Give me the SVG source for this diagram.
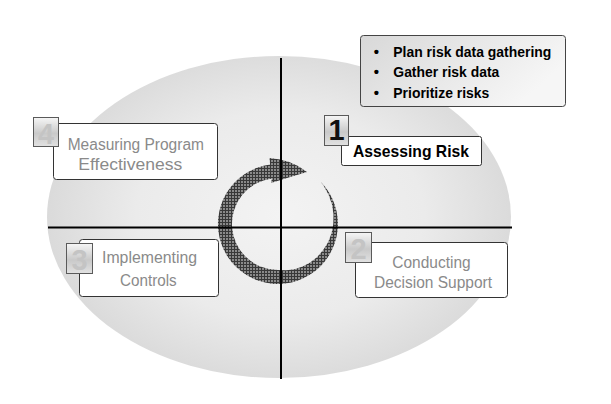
<svg xmlns="http://www.w3.org/2000/svg" width="611" height="404" viewBox="0 0 611 404">
  <defs>
    <radialGradient id="gEll" cx="280" cy="215" r="240" gradientUnits="userSpaceOnUse" gradientTransform="translate(280 215) scale(1 0.72) translate(-280 -215)">
      <stop offset="0" stop-color="#f3f3f3"/>
      <stop offset="0.6" stop-color="#ebebeb"/>
      <stop offset="1" stop-color="#d9d9d9"/>
    </radialGradient>
    <linearGradient id="gBul" x1="0" y1="0" x2="1" y2="0.4">
      <stop offset="0" stop-color="#d8d8d8"/>
      <stop offset="1" stop-color="#f6f6f6"/>
    </linearGradient>
    <linearGradient id="gDig" x1="0" y1="0" x2="0" y2="1">
      <stop offset="0" stop-color="#f6f6f6"/>
      <stop offset="0.55" stop-color="#c9c9c9"/>
      <stop offset="1" stop-color="#e2e2e2"/>
    </linearGradient>
    <pattern id="pMesh" width="3" height="3" patternUnits="userSpaceOnUse">
      <rect width="3" height="3" fill="#8a8a8a"/>
      <rect width="3" height="1" fill="#383838"/>
      <rect width="1" height="3" fill="#383838"/>
    </pattern>
  </defs>
  <style>
    text { font-family: "Liberation Sans", Arial, Helvetica, Arimo, Roboto, sans-serif; }
    .box { fill: #ffffff; stroke: #333333; stroke-width: 1; }
    .dbox { fill: url(#gDig); stroke: #5a5a5a; stroke-width: 1; }
    .dig { font-weight: bold; font-size: 29px; fill: #c4c4c4; text-anchor: middle; }
    .lbl { font-size: 16px; fill: #8a8a8a; }
    .bul { font-weight: bold; font-size: 15px; fill: #000000; }
    .axis { stroke: #000000; stroke-width: 2; fill: none; }
  </style>

  <g id="background">
    <rect width="611" height="404" fill="#ffffff"/>
    <ellipse cx="279" cy="217" rx="232" ry="161" fill="url(#gEll)"/>
  </g>

  <g id="connectors">
    <path id="cycle-arrow" fill="url(#pMesh)" d="M 320.4 181.6 A 60 60 0 1 1 270.1 164.5 L 269.5 158 Q 292 159.5 307 172 Q 290 177 271 183 L 271.9 178.4 A 46 46 0 0 0 278 270 L 286.2 270.3 L 294.4 269.2 L 302.6 266.5 L 310.2 262.4 L 317.2 256.9 L 323.2 250.1 L 328.1 242.2 L 331.5 233.4 L 333.3 224 L 333.5 214.2 L 332 204.4 L 328.6 194.8 L 323.6 185.8 Z"/>
  </g>

  <g id="axes">
    <line class="axis" x1="48" y1="227.5" x2="512" y2="227.5"/>
    <line class="axis" x1="281" y1="58" x2="281" y2="379"/>
  </g>

  <g id="bullets">
    <rect x="360.5" y="35.5" width="205" height="71" rx="3" fill="url(#gBul)" stroke="#444444"/>
    <text class="bul" x="376.5" y="56.7" text-anchor="middle">•</text>
    <text class="bul" x="376.5" y="77.3" text-anchor="middle">•</text>
    <text class="bul" x="376.5" y="98.3" text-anchor="middle">•</text>
    <text class="bul" x="393.3" y="56.7" textLength="158" lengthAdjust="spacingAndGlyphs">Plan risk data gathering</text>
    <text class="bul" x="393.3" y="77.3" textLength="106" lengthAdjust="spacingAndGlyphs">Gather risk data</text>
    <text class="bul" x="393.3" y="98.3" textLength="96" lengthAdjust="spacingAndGlyphs">Prioritize risks</text>
  </g>

  <g id="node1">
    <rect class="box" x="341.5" y="136.5" width="140" height="29" rx="2"/>
    <rect class="dbox" x="324.5" y="115.5" width="24" height="30"/>
    <text class="dig" x="336.5" y="139.5" style="fill:#111111">1</text>
    <text x="353" y="157.3" font-weight="bold" font-size="17" fill="#000000" textLength="116" lengthAdjust="spacingAndGlyphs">Assessing Risk</text>
  </g>

  <g id="node2">
    <rect class="box" x="355.5" y="242.5" width="152" height="55" rx="3"/>
    <rect class="dbox" x="345.5" y="232.5" width="26" height="30"/>
    <text class="dig" x="358.5" y="258.5">2</text>
    <text class="lbl" x="392.3" y="268.3" textLength="78.3" lengthAdjust="spacingAndGlyphs">Conducting</text>
    <text class="lbl" x="374" y="288.3" textLength="118" lengthAdjust="spacingAndGlyphs">Decision Support</text>
  </g>

  <g id="node3">
    <rect class="box" x="79.5" y="239.5" width="139" height="57" rx="3"/>
    <rect class="dbox" x="66.5" y="243.5" width="26" height="30"/>
    <text class="dig" x="79.5" y="269.5">3</text>
    <text class="lbl" x="102" y="263.3" textLength="95" lengthAdjust="spacingAndGlyphs">Implementing</text>
    <text class="lbl" x="120" y="285.7" textLength="56.7" lengthAdjust="spacingAndGlyphs">Controls</text>
  </g>

  <g id="node4">
    <rect class="box" x="53.5" y="123.5" width="164" height="56" rx="3"/>
    <rect class="dbox" x="33.5" y="117.5" width="25" height="29"/>
    <text class="dig" x="46" y="143.5">4</text>
    <text class="lbl" x="67.7" y="149.5" textLength="136.3" lengthAdjust="spacingAndGlyphs">Measuring Program</text>
    <text class="lbl" x="78.3" y="170" textLength="104" lengthAdjust="spacingAndGlyphs">Effectiveness</text>
  </g>
</svg>
